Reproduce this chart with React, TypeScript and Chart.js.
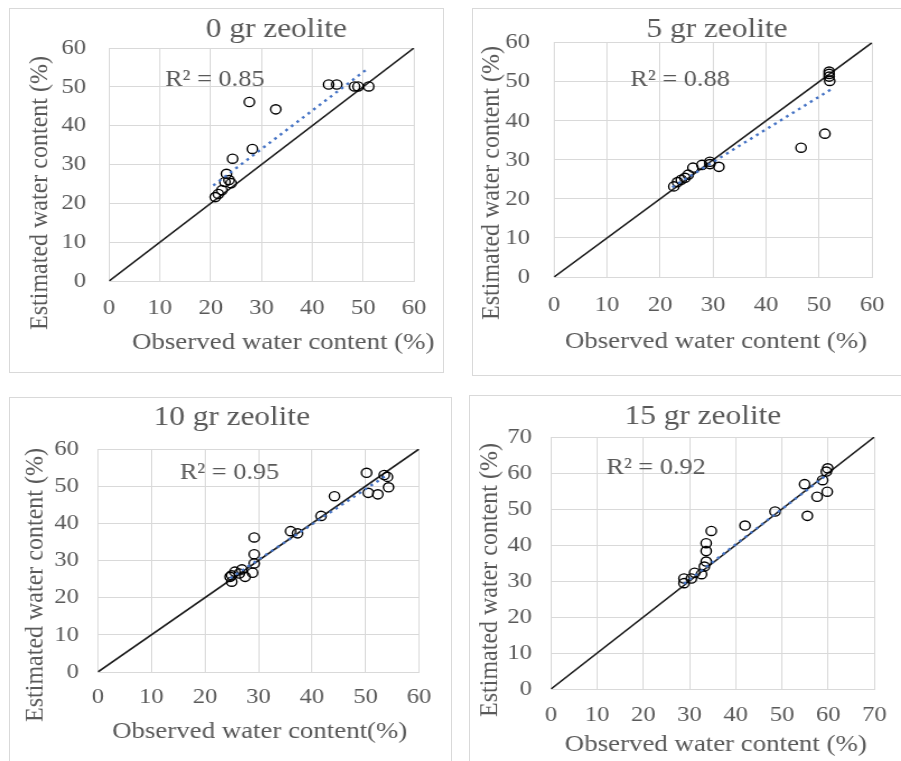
import React, { useEffect, useRef } from "react";
import { Chart, registerables } from "chart.js";

Chart.register(...registerables);

// ---------------- data ----------------
const obs0 = [20.9, 21.5, 22.2, 22.8, 23.1, 23.6, 24.0, 24.3, 27.6, 28.2, 32.8, 43.2, 44.8, 48.3, 49.0, 51.1];
const est0 = [21.6, 22.4, 23.4, 25.5, 27.6, 26.0, 25.2, 31.5, 46.1, 34.0, 44.2, 50.6, 50.6, 50.1, 50.1, 50.1];
const trendX0 = [20.5, 51.0];
const trendY0 = [24.6, 54.8];

const obs5 = [22.6, 23.3, 24.0, 24.7, 25.3, 26.2, 27.9, 29.4, 29.4, 31.1, 46.6, 51.1, 51.9, 51.9, 51.9, 52.0];
const est5 = [23.2, 24.3, 24.9, 25.4, 26.2, 28.0, 28.7, 29.5, 28.9, 28.2, 33.1, 36.7, 52.6, 52.0, 51.3, 50.2];
const trendX5 = [22.3, 52.2];
const trendY5 = [23.0, 48.0];

const obs10 = [24.7, 25.0, 25.0, 25.6, 26.4, 26.9, 27.5, 28.9, 29.2, 29.2, 29.2, 36.0, 37.3, 41.7, 44.2, 50.2, 50.5, 52.3, 53.5, 54.1, 54.3];
const est10 = [25.6, 24.3, 26.0, 27.0, 26.5, 27.6, 25.6, 26.7, 29.2, 31.7, 36.2, 37.9, 37.3, 42.0, 47.3, 53.6, 48.2, 47.8, 53.0, 52.5, 49.7];
const trendX10 = [24.7, 54.0];
const trendY10 = [25.2, 53.0];

const obs15 = [28.8, 28.8, 30.4, 31.1, 32.6, 33.2, 33.6, 33.6, 33.6, 34.7, 42.0, 48.5, 54.9, 55.5, 57.6, 58.8, 59.6, 59.8, 59.9];
const est15 = [29.4, 30.7, 30.7, 32.3, 31.9, 34.0, 35.4, 38.3, 40.5, 43.9, 45.4, 49.3, 56.9, 48.1, 53.4, 58.0, 60.4, 54.8, 61.3];
const trendX15 = [28.8, 59.2];
const trendY15 = [29.2, 59.0];

const titles = ["0 gr zeolite", "5 gr zeolite", "10 gr zeolite", "15 gr zeolite"];
const r2Labels = ["R\u00B2 = 0.85", "R\u00B2 = 0.88", "R\u00B2 = 0.95", "R\u00B2 = 0.92"];
const xTitles = ["Observed water content (%)", "Observed water content (%)", "Observed water content(%)", "Observed water content (%)"];
const yTitle = "Estimated water content (%)";
const axisMax = [60, 60, 60, 70];
const tickStep = 10;

// ---------------- styles ----------------
const FONT = "'Liberation Serif', 'Times New Roman', serif";
const TEXT = "#595959";
const GRID = "#d9d9d9";
const S = 1.12; // horizontal stretch of the reference

type Panel = {
  obs: number[]; est: number[]; tx: number[]; ty: number[];
  title: string; r2: string; xTitle: string; max: number;
  box: [number, number, number, number]; // left, top, width, height (border)
  canvas: [number, number, number, number];
  plot: [number, number, number, number]; // left, right, top, bottom
  yTickGap: number; xTickCenter: number;
  titlePos: [number, number]; yTitlePos: [number, number]; xTitlePos: [number, number];
  r2Pos: [number, number];
};

const panels: Panel[] = [
  {
    obs: obs0, est: est0, tx: trendX0, ty: trendY0, title: titles[0], r2: r2Labels[0], xTitle: xTitles[0], max: axisMax[0],
    box: [9, 8, 435, 365], canvas: [9, 8, 435, 365], plot: [109, 414, 48, 281],
    yTickGap: 23, xTickCenter: 27,
    titlePos: [276, 30], yTitlePos: [40, 193], xTitlePos: [283, 343], r2Pos: [11, 51.8],
  },
  {
    obs: obs5, est: est5, tx: trendX5, ty: trendY5, title: titles[1], r2: r2Labels[1], xTitle: xTitles[1], max: axisMax[1],
    box: [472, 8, 440, 368], canvas: [472, 8, 429, 368], plot: [554, 879, 41, 277],
    yTickGap: 24, xTickCenter: 28,
    titlePos: [717, 30], yTitlePos: [492, 183], xTitlePos: [716, 342], r2Pos: [14.4, 50.6],
  },
  {
    obs: obs10, est: est10, tx: trendX10, ty: trendY10, title: titles[2], r2: r2Labels[2], xTitle: xTitles[2], max: axisMax[2],
    box: [9, 397, 443, 400], canvas: [9, 397, 443, 364], plot: [98, 419, 449, 672],
    yTickGap: 19, xTickCenter: 25,
    titlePos: [232, 418], yTitlePos: [35, 585], xTitlePos: [260, 732], r2Pos: [15.3, 53.5],
  },
  {
    obs: obs15, est: est15, tx: trendX15, ty: trendY15, title: titles[3], r2: r2Labels[3], xTitle: xTitles[3], max: axisMax[3],
    box: [469, 395, 440, 400], canvas: [469, 395, 432, 366], plot: [551, 877, 437, 689],
    yTickGap: 19, xTickCenter: 26,
    titlePos: [703, 417], yTitlePos: [490, 580], xTitlePos: [716, 745], r2Pos: [12.0, 61.4],
  },
];

const TICK_SIZE = 22;

function PanelChart({ p }: { p: Panel }) {
  const ref = useRef<HTMLCanvasElement>(null);
  const [cl, ct, cw, ch] = p.canvas;
  const W = Math.round(cw / S);
  const H = ch;

  useEffect(() => {
    const [pl, pr, pt, pb] = p.plot;
    const ix = (ax: number) => (ax - cl) / S;
    const iy = (ay: number) => ay - ct;

    const textPlugin = {
      id: "panelText",
      afterDraw(chart: any) {
        const ctx = chart.ctx as CanvasRenderingContext2D;
        const draw = (text: string, x: number, y: number, size: number, align: CanvasTextAlign, rot = 0) => {
          ctx.save();
          ctx.font = `${size}px ${FONT}`;
          ctx.fillStyle = TEXT;
          ctx.textAlign = align;
          ctx.textBaseline = "middle";
          ctx.translate(x, y);
          if (rot) ctx.rotate(rot);
          ctx.fillText(text, 0, 0);
          ctx.restore();
        };
        draw(p.title, ix(p.titlePos[0]), iy(p.titlePos[1]), 28, "center");
        draw(p.xTitle, ix(p.xTitlePos[0]), iy(p.xTitlePos[1]), 24, "center");
        draw(yTitle, ix(p.yTitlePos[0]), iy(p.yTitlePos[1]), 24, "center", -Math.PI / 2);
        const xs = chart.scales.x, ys = chart.scales.y;
        draw(p.r2, xs.getPixelForValue(p.r2Pos[0]), ys.getPixelForValue(p.r2Pos[1]), 23.5, "left");
      },
    };

    const tickFont = { family: FONT, size: TICK_SIZE };
    const chart = new Chart(ref.current as HTMLCanvasElement, {
      type: "scatter",
      data: {
        datasets: [
          {
            label: "trend",
            data: p.tx.map((x, i) => ({ x, y: p.ty[i] })),
            showLine: true,
            borderColor: "#4472C4",
            borderWidth: 2.4,
            borderDash: [2.5, 4],
            pointRadius: 0,
            order: 0,
          } as any,
          {
            label: "data",
            data: p.obs.map((x, i) => ({ x, y: p.est[i] })),
            pointRadius: 4.6,
            pointBorderWidth: 1.4,
            pointBorderColor: "#000000",
            pointBackgroundColor: "rgba(0,0,0,0)",
            order: 1,
          } as any,
          {
            label: "1:1",
            data: [0, p.max].map((v) => ({ x: v, y: v })),
            showLine: true,
            borderColor: "#1a1a1a",
            borderWidth: 1.6,
            pointRadius: 0,
            order: 2,
          } as any,
        ],
      },
      options: {
        animation: false,
        responsive: false,
        events: [],
        layout: { padding: { left: 0, top: pt - ct, right: (cl + cw - pr) / S, bottom: 0 } },
        plugins: { legend: { display: false }, title: { display: false }, tooltip: { enabled: false } },
        scales: {
          x: {
            type: "linear", min: 0, max: p.max,
            ticks: { stepSize: tickStep, color: TEXT, font: tickFont, padding: p.xTickCenter - TICK_SIZE * 0.6, maxRotation: 0 },
            grid: { color: GRID, lineWidth: 1, drawTicks: false },
            border: { color: GRID, width: 1 },
            afterFit: (s: any) => { s.height = ct + ch - pb; },
          },
          y: {
            type: "linear", min: 0, max: p.max,
            ticks: { stepSize: tickStep, color: TEXT, font: tickFont, padding: p.yTickGap / S },
            grid: { color: GRID, lineWidth: 1, drawTicks: false },
            border: { color: GRID, width: 1 },
            afterFit: (s: any) => { s.width = (pl - cl) / S; },
          },
        },
      } as any,
      plugins: [textPlugin],
    });
    return () => chart.destroy();
  }, []);

  const [bl, bt, bw, bh] = p.box;
  return (
    <>
      <canvas
        ref={ref}
        width={W}
        height={H}
        style={{
          position: "absolute", left: cl, top: ct, width: W, height: H,
          transform: `scaleX(${cw / W})`, transformOrigin: "0 0",
        }}
      />
      <div
        style={{
          position: "absolute", left: bl, top: bt, width: bw, height: bh,
          border: `1px solid ${GRID}`, boxSizing: "border-box", pointerEvents: "none",
        }}
      />
    </>
  );
}

export default function App() {
  return (
    <div style={{ position: "absolute", left: 0, top: 0, width: 901, height: 761, overflow: "hidden", background: "#ffffff" }}>
      {panels.map((p, i) => (
        <PanelChart key={i} p={p} />
      ))}
    </div>
  );
}
